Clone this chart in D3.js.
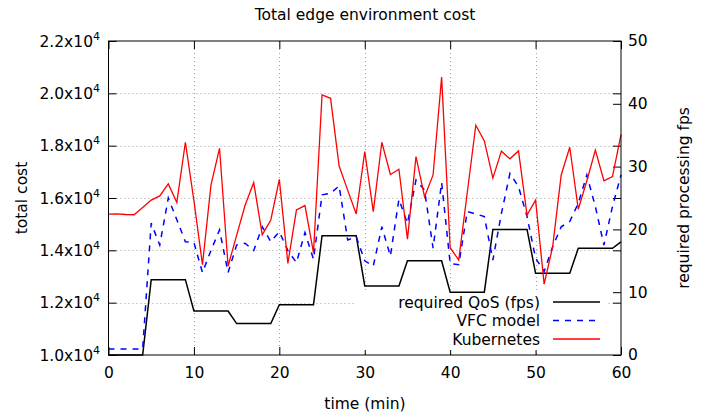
<!DOCTYPE html>
<html>
<head>
<meta charset="utf-8">
<script src="https://cdn.jsdelivr.net/npm/d3@7"></script>
<style>
  html, body { margin: 0; padding: 0; background: #fff; }
  svg { display: block; }
  text { font-family: "DejaVu Sans", sans-serif; fill: #000; }
</style>
</head>
<body>
<svg id="chart" width="707" height="418"></svg>
<script>
// Time axis: one sample per minute
const minutes = d3.range(0, 61);

// Required processing rate (fps), right axis
const requiredFps = [
  0, 0, 0, 0, 0, 12, 12, 12, 12, 12,
  7, 7, 7, 7, 7, 5, 5, 5, 5, 5,
  8, 8, 8, 8, 8, 19, 19, 19, 19, 19,
  11, 11, 11, 11, 11, 15, 15, 15, 15, 15,
  10, 10, 10, 10, 10, 20, 20, 20, 20, 20,
  13, 13, 13, 13, 13, 17, 17, 17, 17, 17,
  18
];

// Total cost with the VFC model, left axis
const vfcCost = [
  10230, 10230, 10230, 10230, 10230, 15040, 14200, 16000, 15170, 14330,
  14300, 13150, 14000, 14780, 13150, 14200, 14270, 13990, 14900, 14330,
  14710, 13990, 13530, 14680, 13660, 16120, 16180, 16460, 14400, 14520,
  13600, 13400, 14900, 13780, 15950, 15030, 16690, 16300, 14080, 16590,
  13500, 13450, 15480, 15390, 15290, 13630, 15410, 16940, 16430, 15290,
  13700, 13190, 14140, 14900, 15100, 15800, 16880, 15670, 14200, 15670,
  16880
];

// Total cost with Kubernetes, left axis
const k8sCost = [
  15380, 15390, 15370, 15360, 15640, 15920, 16080, 16540, 15830, 18130,
  15900, 13450, 16500, 17900, 13400, 14570, 15730, 16590, 14590, 15160,
  16710, 13500, 15540, 15710, 13910, 19940, 19810, 17220, 16300, 15390,
  17770, 15480, 18130, 16900, 17100, 14430, 17580, 16050, 16880, 20620,
  14100, 13630, 16200, 18780, 18180, 16760, 17790, 17500, 17800, 15350,
  15920, 12710, 14140, 16880, 17940, 15570, 16660, 17830, 16660, 16820,
  18420
];

// Tick values and labels
const xTicks = [0, 10, 20, 30, 40, 50, 60];
const yTicks = [10000, 12000, 14000, 16000, 18000, 20000, 22000];
const yTickMantissa = ["1.0", "1.2", "1.4", "1.6", "1.8", "2.0", "2.2"];
const y2Ticks = [0, 10, 20, 30, 40, 50];

const seriesNames = ["required QoS (fps)", "VFC model", "Kubernetes"];

const W = 707, H = 418;
const plot = { left: 108.5, right: 621, top: 41, bottom: 355 };
const FS = 15.5;

const svg = d3.select("#chart");

const x = d3.scaleLinear().domain([0, 60]).range([plot.left, plot.right]);
const y = d3.scaleLinear().domain([10000, 22000]).range([plot.bottom, plot.top]);
const y2 = d3.scaleLinear().domain([0, 50]).range([plot.bottom, plot.top]);

// Dotted grid
const grid = svg.append("g")
  .attr("stroke", "#a0a0a0")
  .attr("stroke-width", 1)
  .attr("stroke-dasharray", "1,3");
xTicks.slice(1, -1).forEach(t => {
  grid.append("line")
    .attr("x1", Math.round(x(t)) + 0.5).attr("x2", Math.round(x(t)) + 0.5)
    .attr("y1", plot.top).attr("y2", plot.bottom);
});
yTicks.slice(1, -1).forEach(t => {
  grid.append("line")
    .attr("x1", plot.left).attr("x2", plot.right)
    .attr("y1", Math.round(y(t)) + 0.5).attr("y2", Math.round(y(t)) + 0.5);
});

// Axes with inward ticks (bottom, top mirror, left, right for both scales)
const tickLen = 8;
const axisBottom = d3.axisBottom(x).tickValues(xTicks).tickSize(-tickLen).tickPadding(12);
const axisTop = d3.axisTop(x).tickValues(xTicks).tickSize(-tickLen).tickFormat("");
const axisLeft = d3.axisLeft(y).tickValues(yTicks).tickSize(-tickLen).tickFormat("");
const axisRightMirror = d3.axisRight(y).tickValues(yTicks).tickSize(-tickLen).tickFormat("");
const axisRight = d3.axisRight(y2).tickValues(y2Ticks).tickSize(-tickLen).tickPadding(7);

function styleAxis(g) {
  g.select(".domain").remove();
  g.selectAll(".tick line").attr("stroke", "#000").attr("stroke-width", 1);
  g.selectAll(".tick text")
    .attr("font-size", FS)
    .attr("font-family", "DejaVu Sans, sans-serif")
    .attr("fill", "#000");
}

svg.append("g").attr("transform", `translate(0,${plot.bottom})`).call(axisBottom).call(styleAxis);
svg.append("g").attr("transform", `translate(0,${plot.top})`).call(axisTop).call(styleAxis);
svg.append("g").attr("transform", `translate(${plot.left},0)`).call(axisLeft).call(styleAxis);
svg.append("g").attr("transform", `translate(${plot.right},0)`).call(axisRightMirror).call(styleAxis);
svg.append("g").attr("transform", `translate(${plot.right},0)`).call(axisRight).call(styleAxis);

// Left tick labels in the form m.mx10^4
const leftLabels = svg.append("g").attr("font-size", FS).attr("text-anchor", "end");
yTicks.forEach((t, i) => {
  const tx = leftLabels.append("text")
    .attr("x", 100)
    .attr("y", y(t) + 5.5);
  tx.append("tspan").text(yTickMantissa[i] + "x10");
  tx.append("tspan").attr("dy", -7).attr("font-size", 11).text("4");
});

// Opaque key background hides the grid beneath it
svg.append("rect")
  .attr("x", 355).attr("y", 293)
  .attr("width", 252).attr("height", 57)
  .attr("fill", "#fff");

// Series lines
const lineFps = d3.line().x((d, i) => x(minutes[i])).y(d => y2(d));
const lineCost = d3.line().x((d, i) => x(minutes[i])).y(d => y(d));

svg.append("path").datum(requiredFps)
  .attr("d", lineFps).attr("fill", "none")
  .attr("stroke", "#000").attr("stroke-width", 1.5);

svg.append("path").datum(vfcCost)
  .attr("d", lineCost).attr("fill", "none")
  .attr("stroke", "#0000ff").attr("stroke-width", 1.5)
  .attr("stroke-dasharray", "6,6");

svg.append("path").datum(k8sCost)
  .attr("d", lineCost).attr("fill", "none")
  .attr("stroke", "#ff0000").attr("stroke-width", 1.3);

// Border
svg.append("rect")
  .attr("x", plot.left).attr("y", plot.top)
  .attr("width", plot.right - plot.left).attr("height", plot.bottom - plot.top)
  .attr("fill", "none").attr("stroke", "#000").attr("stroke-width", 1);

// Key
const keyStyles = [
  { stroke: "#000", dash: null, width: 1.5 },
  { stroke: "#0000ff", dash: "6,6", width: 1.5 },
  { stroke: "#ff0000", dash: null, width: 1.3 }
];
const keyRows = [302, 320.5, 339];
seriesNames.forEach((name, i) => {
  svg.append("text")
    .attr("x", 540).attr("y", keyRows[i] + 5.5)
    .attr("text-anchor", "end").attr("font-size", FS)
    .text(name);
  svg.append("line")
    .attr("x1", 553).attr("x2", 600)
    .attr("y1", keyRows[i]).attr("y2", keyRows[i])
    .attr("stroke", keyStyles[i].stroke)
    .attr("stroke-width", keyStyles[i].width)
    .attr("stroke-dasharray", keyStyles[i].dash);
});

// Titles
svg.append("text")
  .attr("x", 365).attr("y", 20)
  .attr("text-anchor", "middle").attr("font-size", FS)
  .text("Total edge environment cost");

svg.append("text")
  .attr("x", 365).attr("y", 409)
  .attr("text-anchor", "middle").attr("font-size", FS)
  .text("time (min)");

svg.append("text")
  .attr("transform", `translate(27,${(plot.top + plot.bottom) / 2}) rotate(-90)`)
  .attr("text-anchor", "middle").attr("font-size", FS)
  .text("total cost");

svg.append("text")
  .attr("transform", `translate(689,${(plot.top + plot.bottom) / 2}) rotate(-90)`)
  .attr("text-anchor", "middle").attr("font-size", FS)
  .text("required processing fps");
</script>
</body>
</html>
